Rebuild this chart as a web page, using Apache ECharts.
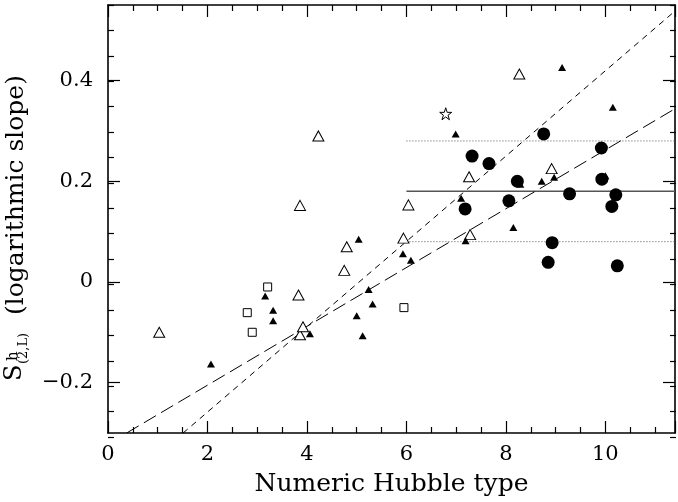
<!DOCTYPE html>
<html>
<head>
<meta charset="utf-8">
<script src="https://cdn.jsdelivr.net/npm/echarts@6/dist/echarts.min.js"></script>
<style>
  html, body { margin: 0; padding: 0; background: #fff; }
  #main { width: 678px; height: 502px; }
</style>
</head>
<body>
<div id="main"></div>
<script>
// 坐标轴范围
var xMin = 0, xMax = 11.4;
var yMin = -0.3, yMax = 0.55;
var xTicks = [0, 2, 4, 6, 8, 10];
var yTicks = [-0.2, 0, 0.2, 0.4];

// 数据点 (Hubble type, slope)
var openTri = [[1.03,-0.10],[3.83,-0.026],[3.86,-0.105],[3.92,-0.089],[4.23,0.29],[3.86,0.152],
    [4.80,0.070],[4.75,0.023],[6.04,0.153],[5.94,0.087],[8.27,0.413],[7.26,0.209],[8.92,0.225],[7.28,0.094]];
var openSq = [[2.80,-0.061],[2.90,-0.10],[3.21,-0.010],[5.95,-0.051]];
var openStar = [[6.79,0.334]];
var filledTri = [[2.07,-0.163],[3.16,-0.028],[3.32,-0.056],[3.32,-0.077],[4.06,-0.103],[5.04,0.085],
    [5.24,-0.015],[5.32,-0.044],[5.00,-0.067],[5.12,-0.107],[5.93,0.056],[6.09,0.043],[6.99,0.294],
    [7.10,0.166],[7.19,0.082],[8.15,0.108],[8.72,0.200],[8.97,0.208],[9.13,0.426],[10.15,0.347],
    [8.29,0.194],[10.0,0.211]];
var filledCirc = [[7.32,0.250],[7.66,0.235],[8.76,0.294],[8.23,0.200],[8.06,0.161],[7.18,0.145],
    [8.93,0.078],[8.85,0.039],[9.92,0.266],[9.93,0.204],[9.28,0.175],[10.21,0.173],[10.13,0.150],[10.24,0.032]];

// 拟合线 / 平均线
var shortDash = [[1.51,-0.3],[11.4,0.538]];
var longDash = [[0.375,-0.3],[11.4,0.344]];
var meanLine = [[6,0.18],[11.4,0.18]];
var upperDot = [[6,0.28],[11.4,0.28]];
var lowerDot = [[6,0.08],[11.4,0.08]];

var serif = '"DejaVu Serif", serif';
var starPath = 'path://M50,0 L61.8,35.4 L99,35.4 L68.9,57.3 L80.4,92.7 L50,70.8 L19.6,92.7 L31.1,57.3 L1,35.4 L38.2,35.4 Z';
var gridPos = { left: 108, right: 2, top: 5, bottom: 65 };

function fmtY(v) {
    if (Math.abs(v) < 1e-9) return '0';
    return v.toFixed(1).replace('-', '\u2212');
}

var lineBlack = { show: true, onZero: false, lineStyle: { color: '#000', width: 1.6 } };
var noLine = { show: false };

var myChart = echarts.init(document.getElementById('main'), null, { renderer: 'canvas' });

var option = {
    backgroundColor: '#fff',
    animation: false,
    // grid 0 放数据和长刻度, grid 1 只画 y 方向短刻度
    grid: [Object.assign({}, gridPos), Object.assign({}, gridPos)],
    xAxis: [
        {
            gridIndex: 0, type: 'value', min: xMin, max: xMax, interval: 2, position: 'bottom',
            name: 'Numeric Hubble type', nameLocation: 'middle', nameGap: 39,
            nameTextStyle: { fontFamily: serif, fontSize: 25, color: '#000' },
            axisLine: lineBlack,
            axisTick: { show: true, inside: true, length: 12, lineStyle: { color: '#000', width: 1.2 } },
            minorTick: { show: true, splitNumber: 4, length: 6, lineStyle: { color: '#000', width: 1.2 } },
            splitLine: { show: false },
            axisLabel: {
                show: true, margin: 11, fontFamily: serif, fontSize: 21, color: '#000',
                formatter: function (v) { return xTicks.indexOf(v) >= 0 ? String(v) : ''; }
            }
        },
        {
            gridIndex: 0, type: 'value', min: xMin, max: xMax, interval: 2, position: 'top',
            axisLine: lineBlack,
            axisTick: { show: true, inside: true, length: 12, lineStyle: { color: '#000', width: 1.2 } },
            minorTick: { show: true, splitNumber: 4, length: 6, lineStyle: { color: '#000', width: 1.2 } },
            splitLine: { show: false },
            axisLabel: { show: false }
        },
        { gridIndex: 1, type: 'value', min: xMin, max: xMax, show: false },
    ],
    yAxis: [
        {
            gridIndex: 0, type: 'value', min: yMin, max: yMax, position: 'left',
            axisLine: lineBlack,
            axisTick: { show: true, inside: true, length: 12, customValues: yTicks, lineStyle: { color: '#000', width: 1.2 } },
            splitLine: { show: false },
            axisLabel: {
                show: true, margin: 15, fontFamily: serif, fontSize: 21, color: '#000',
                customValues: yTicks, formatter: fmtY
            }
        },
        {
            gridIndex: 0, type: 'value', min: yMin, max: yMax, position: 'right',
            axisLine: lineBlack,
            axisTick: { show: true, inside: true, length: 12, customValues: yTicks, lineStyle: { color: '#000', width: 1.2 } },
            splitLine: { show: false },
            axisLabel: { show: false }
        },
        {
            gridIndex: 1, type: 'value', min: yMin, max: yMax, interval: 0.05, position: 'left',
            axisLine: noLine, splitLine: { show: false }, axisLabel: { show: false },
            axisTick: { show: true, inside: true, length: 6, lineStyle: { color: '#000', width: 1.2 } }
        },
        {
            gridIndex: 1, type: 'value', min: yMin, max: yMax, interval: 0.05, position: 'right',
            axisLine: noLine, splitLine: { show: false }, axisLabel: { show: false },
            axisTick: { show: true, inside: true, length: 6, lineStyle: { color: '#000', width: 1.2 } }
        }
    ],
    graphic: [
        {
            type: 'group', x: 3, y: 381, rotation: Math.PI / 2,
            children: [
                { type: 'text', style: { text: 'S', x: 0, y: 0, font: '24px ' + serif, fill: '#000', verticalAlign: 'top' } },
                { type: 'text', style: { text: 'h', x: 20, y: 3, font: '15px ' + serif, fill: '#000', verticalAlign: 'top' } },
                { type: 'text', style: { text: '(2,L)', x: 17, y: 14, font: '13px ' + serif, fill: '#000', verticalAlign: 'top' } },
                { type: 'text', style: { text: '(logarithmic slope)', x: 66, y: 1, font: '25px ' + serif, fill: '#000', verticalAlign: 'top' } }
            ]
        }
    ],
    series: [
        { type: 'line', data: upperDot, symbol: 'none', lineStyle: { color: '#555', width: 1, type: [1, 2] }, z: 1 },
        { type: 'line', data: lowerDot, symbol: 'none', lineStyle: { color: '#555', width: 1, type: [1, 2] }, z: 1 },
        { type: 'line', data: meanLine, symbol: 'none', lineStyle: { color: '#555', width: 1.5 }, z: 1 },
        { type: 'line', data: shortDash, symbol: 'none', lineStyle: { color: '#000', width: 1, type: [6, 5] }, z: 1 },
        { type: 'line', data: longDash, symbol: 'none', lineStyle: { color: '#000', width: 1, type: [14, 6] }, z: 1 },
        { type: 'scatter', data: openTri, symbol: 'triangle', symbolSize: [11, 10],
          itemStyle: { color: '#fff', borderColor: '#000', borderWidth: 1, opacity: 1 }, z: 3 },
        { type: 'scatter', data: openSq, symbol: 'rect', symbolSize: 8,
          itemStyle: { color: '#fff', borderColor: '#000', borderWidth: 1, opacity: 1 }, z: 3 },
        { type: 'scatter', data: openStar, symbol: starPath, symbolSize: 12,
          itemStyle: { color: '#fff', borderColor: '#000', borderWidth: 1, opacity: 1 }, z: 3 },
        { type: 'scatter', data: filledTri, symbol: 'triangle', symbolSize: [8, 7],
          itemStyle: { color: '#000', opacity: 1 }, z: 4 },
        { type: 'scatter', data: filledCirc, symbol: 'circle', symbolSize: 13,
          itemStyle: { color: '#000', opacity: 1 }, z: 4 }
    ]
};
myChart.setOption(option);
</script>
</body>
</html>
